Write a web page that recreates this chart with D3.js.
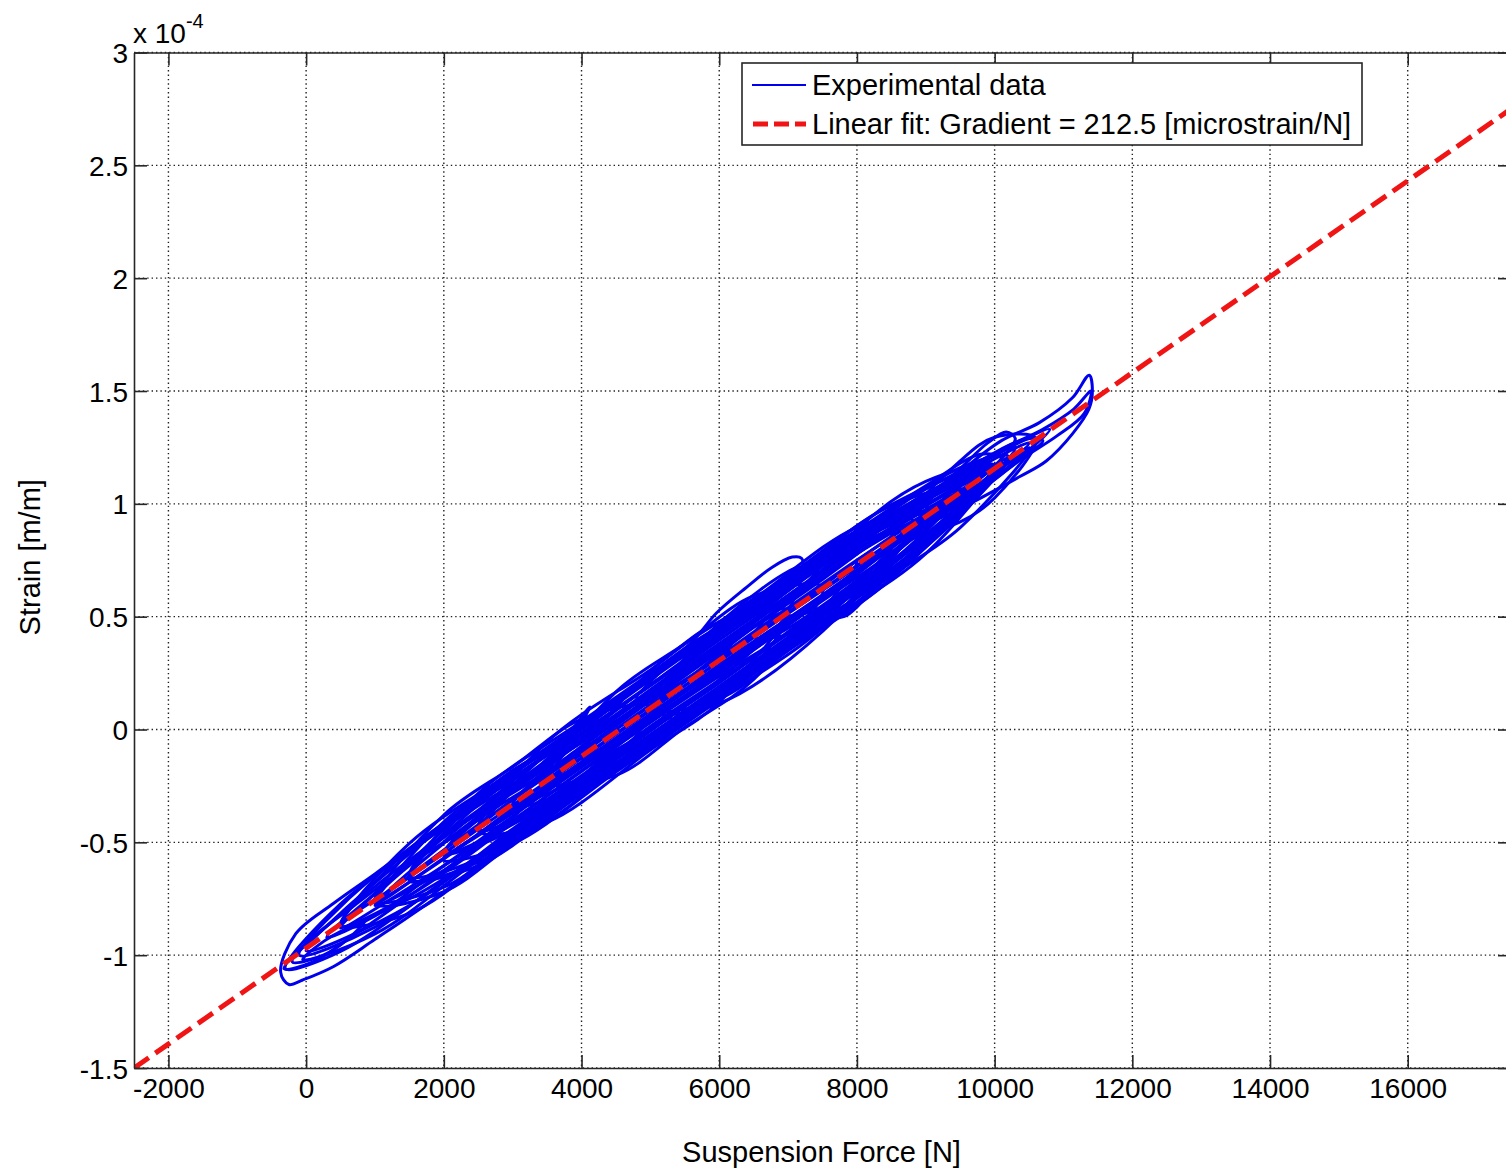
<!DOCTYPE html>
<meta charset="utf-8">

<!-- Load d3.js -->
<script src="https://d3js.org/d3.v7.min.js"></script>

<style>
  body { margin: 0; background: #fff; }
  text { font-family: "Liberation Sans", Arial, Helvetica, sans-serif; fill: #000; }
</style>

<!-- Create a div where the graph will take place -->
<div id="my_dataviz"></div>

<script>

// tick values of the two axes (strain is given in units of 1e-4 m/m)
var forceTicks = [-2000, 0, 2000, 4000, 6000, 8000, 10000, 12000, 14000, 16000];
var strainTicks = [-1.5, -1, -0.5, 0, 0.5, 1, 1.5, 2, 2.5, 3];
var forceTickLabels = ["-2000", "0", "2000", "4000", "6000", "8000", "10000", "12000", "14000", "16000"];
var strainTickLabels = ["-1.5", "-1", "-0.5", "0", "0.5", "1", "1.5", "2", "2.5", "3"];

// linear fit, end points [force N, strain 1e-4]
var fitForce = [-2500, 17500];
var fitStrain = [-1.5, 2.75];

var leftCycles = [
  [[-370,-1.075],[-150,-0.905],[400,-0.77],[1000,-0.64],[2000,-0.415],[3500,-0.11],[5000,0.24],[6500,0.56],[8000,0.88],[9000,1.08],[9800,1.22],[10100,1.20],
   [9800,1.05],[9000,0.82],[7500,0.47],[6000,0.15],[4500,-0.17],[3000,-0.48],[2000,-0.72],[1000,-0.93],[400,-1.05],[-50,-1.11],[-250,-1.13]],
  [[-300,-1.06],[500,-0.773],[2000,-0.434],[4000,0.001],[6000,0.436],[8000,0.851],[9500,1.08],[8000,0.631],[6000,0.186],[4000,-0.239],[2000,-0.674],[500,-0.983]],
  [[-200,-1.03],[1000,-0.696],[2500,-0.358],[4500,0.087],[6500,0.522],[8500,0.937],[10000,1.17],[8500,0.707],[6500,0.272],[4500,-0.153],[2500,-0.578],[1000,-0.906]],
  [[0,-0.98],[1500,-0.55],[3000,-0.201],[5000,0.244],[7000,0.659],[8500,0.977],[10300,1.25],[9000,0.864],[7000,0.429],[5000,-0.006],[3000,-0.441],[1500,-0.78]],
  [[-100,-1.0],[1000,-0.646],[2500,-0.338],[4000,-0.059],[5500,0.22],[7000,0.519],[8000,0.74],[7000,0.369],[5500,0.07],[4000,-0.229],[2500,-0.558],[1000,-0.876]],
  [[-320,-1.06],[100,-0.92],[700,-0.78],[1400,-0.62],[2200,-0.46],[3000,-0.30],[3600,-0.20],[3000,-0.39],[2200,-0.58],[1400,-0.76],[700,-0.91],[100,-1.03]],
  [[-50,-1.02],[250,-0.94],[600,-0.88],[850,-0.85],[600,-0.93],[250,-1.0]],
  [[1000,-0.77],[2000,-0.379],[3000,-0.166],[4000,0.046],[5000,0.10],[4000,-0.294],[3000,-0.506],[2000,-0.719]]
];

var coreCycles = [
  [[1000,-0.78],[2000,-0.504],[3500,-0.165],[5500,0.27],[7500,0.685],[9000,0.95],[7500,0.575],[5500,0.14],[3500,-0.295],[2000,-0.624]],
  [[500,-0.87],[1500,-0.53],[3000,-0.221],[4500,0.117],[6000,0.456],[7500,0.775],[8800,0.93],[7500,0.505],[6000,0.156],[4500,-0.133],[3000,-0.461],[1500,-0.75]],
  [[2000,-0.56],[3000,-0.311],[4500,0.017],[6000,0.346],[7500,0.665],[9000,0.994],[10500,1.25],[9000,0.924],[7500,0.595],[6000,0.286],[4500,-0.043],[3000,-0.371]],
  [[1500,-0.67],[2500,-0.308],[4000,0.001],[5500,0.34],[7000,0.649],[8500,0.967],[9500,1.16],[10200,1.21],[9500,0.95],[8500,0.687],[7000,0.389],[5500,0.05],[4000,-0.269],[2500,-0.588]],
  [[2500,-0.45],[3500,-0.135],[5000,0.194],[6500,0.502],[8000,0.831],[9500,1.06],[8000,0.661],[6500,0.322],[5000,0.014],[3500,-0.325]],
  [[300,-0.92],[1000,-0.726],[2000,-0.474],[3500,-0.185],[5000,0.144],[6500,0.472],[8000,0.801],[9500,1.04],[8000,0.691],[6500,0.352],[5000,0.044],[3500,-0.275],[2000,-0.604],[1000,-0.826]],
  [[3000,-0.34],[4000,-0.039],[5500,0.31],[7000,0.639],[8500,0.947],[10000,1.14],[8500,0.727],[7000,0.409],[5500,0.08],[4000,-0.249]],
  [[4000,-0.13],[5000,0.154],[6500,0.542],[8000,0.861],[9500,1.13],[10800,1.33],[9500,0.99],[8000,0.611],[6500,0.292],[5000,-0.036]],
  [[1000,-0.77],[2000,-0.534],[3500,-0.205],[5000,0.104],[6500,0.432],[8000,0.751],[9000,0.95],[8000,0.721],[6500,0.412],[5000,0.084],[3500,-0.235],[2000,-0.574]],
  [[2000,-0.55],[3000,-0.271],[4500,0.067],[6000,0.396],[7500,0.725],[9000,1.044],[10000,1.17],[9000,0.854],[7500,0.545],[6000,0.206],[4500,-0.103],[3000,-0.421]],
  [[3500,-0.24],[4500,0.127],[6000,0.426],[7500,0.745],[9000,0.96],[7500,0.485],[6000,0.176],[4500,-0.163]],
  [[500,-0.88],[1500,-0.59],[3000,-0.181],[4500,0.037],[6000,0.376],[7500,0.705],[9000,1.024],[10500,1.27],[9000,0.894],[7500,0.525],[6000,0.236],[4500,-0.073],[3000,-0.401],[1500,-0.70]],
  [[5000,0.08],[6000,0.336],[7000,0.569],[8500,0.897],[9800,1.12],[8500,0.807],[7000,0.469],[6000,0.266]],
  [[2500,-0.44],[3500,-0.105],[5000,0.224],[6500,0.562],[8000,0.881],[9500,1.07],[8000,0.591],[6500,0.262],[5000,-0.056],[3500,-0.355]],
  [[6000,0.30],[7000,0.619],[8500,0.927],[10000,1.16],[8500,0.777],[7000,0.449]],
  [[1500,-0.66],[2500,-0.283],[4000,0.036],[5500,0.355],[7000,0.674],[8500,0.992],[9500,1.06],[8500,0.672],[7000,0.354],[5500,0.035],[4000,-0.284],[2500,-0.603]],
  [[2000,-0.55],[3000,-0.256],[4500,0.062],[6000,0.381],[7500,0.70],[9000,1.019],[10000,1.16],[9000,0.829],[7500,0.51],[6000,0.191],[4500,-0.128],[3000,-0.446]],
  [[1000,-0.77],[2000,-0.409],[3500,-0.09],[5000,0.229],[6500,0.547],[8000,0.866],[9000,0.95],[8000,0.706],[6500,0.387],[5000,0.069],[3500,-0.25],[2000,-0.569]],
  [[500,-0.87],[1500,-0.655],[3000,-0.336],[4500,-0.018],[6000,0.301],[7500,0.62],[9000,0.939],[10000,1.15],[9000,0.779],[7500,0.46],[6000,0.141],[4500,-0.178],[3000,-0.496],[1500,-0.815]],
  [[3000,-0.33],[4000,-0.074],[5500,0.245],[7000,0.564],[8500,0.882],[9500,1.05],[8500,0.742],[7000,0.424],[5500,0.105],[4000,-0.214]],
  [[1500,-0.65],[2500,-0.333],[4000,-0.014],[5500,0.305],[7000,0.624],[8500,0.942],[10000,1.16],[8500,0.702],[7000,0.384],[5500,0.065],[4000,-0.254],[2500,-0.573]],
  [[4000,-0.12],[5000,0.259],[6500,0.577],[8000,0.896],[9000,0.96],[8000,0.686],[6500,0.367],[5000,0.049]],
  [[2000,-0.58],[3000,-0.366],[4500,-0.048],[6000,0.271],[7500,0.59],[8500,0.80],[7500,0.45],[6000,0.131],[4500,-0.188],[3000,-0.506]],
  [[5000,0.09],[6000,0.466],[7000,0.679],[8500,0.997],[10000,1.17],[8500,0.667],[7000,0.349],[6000,0.136]],
  [[500,-0.87],[1500,-0.505],[3000,-0.186],[4500,0.132],[6000,0.451],[7000,0.53],[6000,0.221],[4500,-0.098],[3000,-0.416],[1500,-0.735]],
  [[6500,0.41],[7500,0.71],[8500,0.922],[9500,1.135],[10600,1.29],[9500,0.895],[8500,0.682],[7500,0.47]],
  [[3500,-0.23],[4500,0.002],[6000,0.321],[7500,0.64],[9000,0.959],[10000,1.15],[9000,0.889],[7500,0.57],[6000,0.251],[4500,-0.068]],
  [[1000,-0.76],[2000,-0.479],[3000,-0.266],[4500,0.052],[6000,0.371],[7000,0.52],[6000,0.151],[4500,-0.168],[3000,-0.486],[2000,-0.699]],
  [[7000,0.51],[8000,0.886],[9000,1.099],[10000,1.17],[9000,0.819],[8000,0.606]],
  [[3500,-0.23],[4500,0.167],[5500,0.38],[6500,0.592],[7500,0.63],[6500,0.222],[5500,0.01],[4500,-0.203]],
  [[2500,-0.45],[3500,-0.055],[5000,0.264],[6000,0.476],[7000,0.52],[6000,0.121],[5000,-0.091],[3500,-0.41]],
  [[5000,0.08],[6000,0.426],[7500,0.745],[8800,0.90],[7500,0.435],[6000,0.116]]
];

var rightCycles = [
  [[8500,0.85],[9500,1.14],[10100,1.28],[10650,1.36],[11130,1.47],[11374,1.57],[11420,1.50],[11370,1.42],[11130,1.31],[10750,1.19],[10360,1.12],[9500,0.98]],
  [[9000,0.93],[10000,1.22],[10700,1.33],[11150,1.42],[11400,1.50],[11300,1.40],[10900,1.30],[10400,1.20],[9600,1.02]],
  [[8500,0.93],[9300,1.10],[9900,1.27],[10170,1.318],[10300,1.29],[10100,1.20],[9500,1.04],[8800,0.88]],
  [[9000,0.99],[9800,1.19],[10500,1.29],[10700,1.28],[10300,1.18],[9600,1.03]],
  [[8500,0.84],[9500,1.19],[10000,1.295],[10600,1.29],[10000,1.026],[9500,0.92]]
];

// the stray loops sticking out of the band
var sideCycles = [
  [[2000,-0.50],[3000,-0.23],[3750,-0.04],[4120,0.10],[3950,0.01],[3500,-0.13],[2500,-0.40]],
  [[4800,0.14],[5670,0.41],[5960,0.516],[6400,0.631],[6770,0.719],[7060,0.764],[7195,0.759],[7210,0.719],[6880,0.64],[6300,0.51],[5700,0.37],[5000,0.16]],
  [[5400,0.28],[6000,0.47],[6600,0.62],[7000,0.70],[7150,0.72],[6900,0.63],[6200,0.47],[5600,0.32]],
  [[7000,0.37],[7500,0.48],[7850,0.505],[8150,0.59],[8350,0.65],[8200,0.68],[7800,0.60],[7300,0.46]],
  [[3800,-0.28],[4260,-0.19],[4550,-0.15],[5100,-0.05],[5300,0.05],[4800,-0.04],[4300,-0.13]]
];

var legendLabels = ["Experimental data", "Linear fit: Gradient = 212.5 [microstrain/N]"];

// set the dimensions and margins of the graph
var margin = {top: 52.5, right: 0, bottom: 104, left: 134},
    width = 1377,
    height = 1015.5;

var svg = d3.select("#my_dataviz")
  .append("svg")
    .attr("width", 1506)
    .attr("height", 1172)
    .style("display", "block")
  .append("g")
    .attr("transform", "translate(" + margin.left + "," + margin.top + ")");

var x = d3.scaleLinear()
  .domain([-2500, 17500])
  .range([0, width]);

var y = d3.scaleLinear()
  .domain([-1.5, 3])
  .range([height, 0]);

svg.append("clipPath")
    .attr("id", "plotclip")
  .append("rect")
    .attr("width", width)
    .attr("height", height);

// dotted grid
var grid = svg.append("g")
  .attr("stroke", "#222")
  .attr("stroke-width", 1.4)
  .attr("stroke-dasharray", "1.4,3");

grid.selectAll("vgrid")
  .data(forceTicks)
  .enter()
  .append("line")
    .attr("x1", function(d) { return x(d); })
    .attr("x2", function(d) { return x(d); })
    .attr("y1", 0)
    .attr("y2", height);

grid.selectAll("hgrid")
  .data(strainTicks)
  .enter()
  .append("line")
    .attr("x1", 0)
    .attr("x2", width)
    .attr("y1", function(d) { return y(d); })
    .attr("y2", function(d) { return y(d); });

// experimental data
var loop = d3.line()
  .x(function(d) { return x(d[0]); })
  .y(function(d) { return y(d[1]); })
  .curve(d3.curveCatmullRomClosed.alpha(0.5));

var dataLayer = svg.append("g")
  .attr("clip-path", "url(#plotclip)");

dataLayer.selectAll("cycle")
  .data(leftCycles.concat(coreCycles, rightCycles, sideCycles))
  .enter()
  .append("path")
    .attr("d", loop)
    .attr("fill", "none")
    .attr("stroke", "#0000ee")
    .attr("stroke-width", 3)
    .attr("stroke-linejoin", "round");

// linear fit
dataLayer.append("line")
  .attr("x1", x(fitForce[0]))
  .attr("y1", y(fitStrain[0]))
  .attr("x2", x(fitForce[1]))
  .attr("y2", y(fitStrain[1]))
  .attr("stroke", "#f01414")
  .attr("stroke-width", 5)
  .attr("stroke-dasharray", "18,8");

// axes, ticks pointing inwards on all four sides
var bottomAxis = svg.append("g")
  .attr("transform", "translate(0," + height + ")")
  .call(d3.axisBottom(x).tickValues(forceTicks)
    .tickFormat(function(d, i) { return forceTickLabels[i]; })
    .tickSizeInner(-13).tickSizeOuter(0).tickPadding(10));

var leftAxis = svg.append("g")
  .call(d3.axisLeft(y).tickValues(strainTicks)
    .tickFormat(function(d, i) { return strainTickLabels[i]; })
    .tickSizeInner(-13).tickSizeOuter(0).tickPadding(6));

var topAxis = svg.append("g")
  .call(d3.axisTop(x).tickValues(forceTicks).tickFormat("")
    .tickSizeInner(-13).tickSizeOuter(0));

var rightAxis = svg.append("g")
  .attr("transform", "translate(" + width + ",0)")
  .call(d3.axisRight(y).tickValues(strainTicks).tickFormat("")
    .tickSizeInner(-13).tickSizeOuter(0));

[bottomAxis, leftAxis, topAxis, rightAxis].forEach(function(a) {
  a.selectAll("path, line").attr("stroke", "#262626").attr("stroke-width", 1.6);
  a.selectAll("text")
    .attr("font-size", 28)
    .attr("font-family", "'Liberation Sans', Arial, sans-serif")
    .attr("fill", "#000");
});
leftAxis.selectAll("text").attr("dy", "0.36em");

// exponent above the strain axis
var expo = svg.append("text")
  .attr("x", -1)
  .attr("y", -9.5)
  .attr("font-size", 28)
  .text("x 10");
expo.append("tspan")
  .attr("font-size", 20)
  .attr("dy", -15)
  .text("-4");

// axis titles
svg.append("text")
  .attr("x", x(7500) - 1)
  .attr("y", height + 94)
  .attr("text-anchor", "middle")
  .attr("font-size", 29)
  .text("Suspension Force [N]");

svg.append("text")
  .attr("transform", "translate(" + (-94) + "," + (height / 2 - 3) + ")rotate(-90)")
  .attr("text-anchor", "middle")
  .attr("font-size", 29)
  .text("Strain [m/m]");

// legend
var legend = svg.append("g")
  .attr("transform", "translate(" + (742 - margin.left) + "," + (63 - margin.top) + ")");

legend.append("rect")
  .attr("width", 620)
  .attr("height", 82)
  .attr("fill", "#fff")
  .attr("stroke", "#262626")
  .attr("stroke-width", 1.6);

legend.append("line")
  .attr("x1", 10).attr("x2", 64)
  .attr("y1", 22).attr("y2", 22)
  .attr("stroke", "#0000ee")
  .attr("stroke-width", 2.2);

legend.append("line")
  .attr("x1", 11).attr("x2", 64)
  .attr("y1", 61).attr("y2", 61)
  .attr("stroke", "#f01414")
  .attr("stroke-width", 5)
  .attr("stroke-dasharray", "15,6");

legend.selectAll("legendtext")
  .data(legendLabels)
  .enter()
  .append("text")
    .attr("x", 70)
    .attr("y", function(d, i) { return 22 + i * 39; })
    .attr("dy", "0.36em")
    .attr("font-size", 29)
    .text(function(d) { return d; });

</script>
